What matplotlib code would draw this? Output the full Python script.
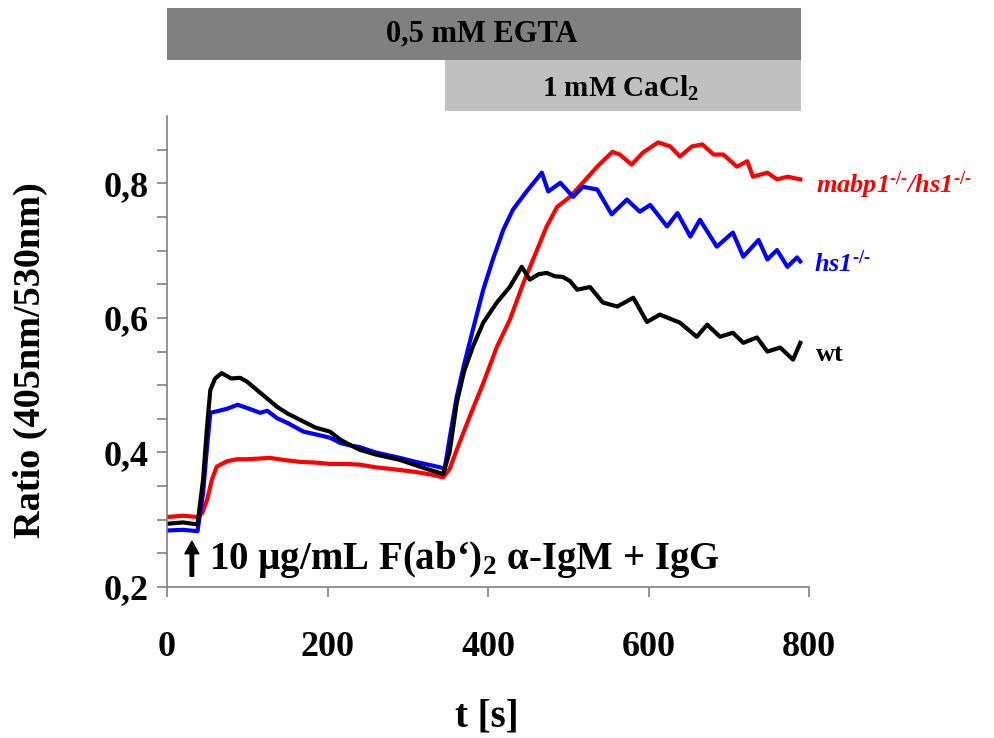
import numpy as np
import matplotlib
matplotlib.use("Agg")
import matplotlib.pyplot as plt
import matplotlib.transforms as mtransforms
from matplotlib.patches import Rectangle

plt.rcParams['font.family'] = ['Liberation Serif', 'DejaVu Serif']
plt.rcParams['font.weight'] = 'bold'
plt.rcParams['mathtext.fontset'] = 'custom'
plt.rcParams['mathtext.rm'] = 'Liberation Serif:bold'
plt.rcParams['mathtext.bf'] = 'Liberation Serif:bold'
plt.rcParams['mathtext.it'] = 'Liberation Serif:italic:bold'

# time (s) and ratio values
t_wt = [0, 20, 38, 45, 50, 54, 60, 68, 80, 91, 100, 107, 120, 137, 150, 170, 185, 203,
        216, 230, 240, 260, 275, 290, 310, 325, 344, 352, 361, 370, 381, 394, 411, 427,
        442, 452, 463, 473, 483, 493, 502, 511, 527, 543, 561, 581, 598, 614, 639, 660,
        673, 689, 705, 718, 735, 748, 764, 780, 789]
r_wt = [0.294, 0.296, 0.293, 0.36, 0.44, 0.493, 0.51, 0.518, 0.510, 0.511, 0.505, 0.498,
        0.485, 0.468, 0.458, 0.446, 0.437, 0.431, 0.419, 0.410, 0.404, 0.397, 0.393, 0.389,
        0.381, 0.375, 0.368, 0.40, 0.474, 0.52, 0.557, 0.593, 0.623, 0.646, 0.676, 0.657,
        0.665, 0.667, 0.662, 0.661, 0.655, 0.642, 0.646, 0.623, 0.617, 0.630, 0.594, 0.605,
        0.593, 0.572, 0.590, 0.572, 0.578, 0.563, 0.571, 0.550, 0.556, 0.538, 0.563]

t_hs1 = [0, 20, 38, 45, 50, 54, 65, 75, 88, 100, 116, 125, 137, 150, 170, 185, 203, 216,
         230, 240, 260, 275, 290, 310, 325, 340, 346, 352, 361, 370, 381, 394, 406, 419,
         431, 448, 467, 475, 490, 506, 518, 536, 554, 573, 589, 602, 623, 636, 652, 664,
         685, 705, 718, 737, 748, 760, 773, 785, 789]
r_hs1 = [0.284, 0.285, 0.283, 0.34, 0.41, 0.459, 0.462, 0.465, 0.471, 0.466, 0.459, 0.462,
         0.451, 0.444, 0.431, 0.427, 0.422, 0.414, 0.410, 0.408, 0.400, 0.396, 0.392, 0.386,
         0.382, 0.378, 0.376, 0.42, 0.483, 0.53, 0.582, 0.642, 0.687, 0.731, 0.761, 0.788,
         0.816, 0.788, 0.801, 0.780, 0.795, 0.791, 0.754, 0.776, 0.758, 0.768, 0.736, 0.756,
         0.721, 0.746, 0.706, 0.727, 0.691, 0.716, 0.687, 0.701, 0.676, 0.690, 0.684]

t_dko = [0, 20, 38, 44, 50, 56, 62, 75, 87, 100, 115, 128, 145, 166, 185, 203, 220, 240,
         260, 290, 310, 330, 344, 352, 361, 377, 394, 411, 427, 444, 461, 473, 486, 502,
         518, 536, 555, 564, 579, 593, 612, 627, 639, 654, 667, 681, 693, 710, 723, 730,
         748, 760, 773, 789]
r_dko = [0.304, 0.306, 0.304, 0.31, 0.330, 0.36, 0.379, 0.387, 0.390, 0.390, 0.391, 0.392,
         0.389, 0.386, 0.385, 0.383, 0.383, 0.382, 0.378, 0.374, 0.371, 0.367, 0.363, 0.375,
         0.404, 0.453, 0.503, 0.557, 0.597, 0.652, 0.701, 0.736, 0.765, 0.780, 0.801, 0.825,
         0.847, 0.843, 0.828, 0.846, 0.861, 0.855, 0.840, 0.855, 0.858, 0.843, 0.843, 0.825,
         0.833, 0.810, 0.816, 0.806, 0.810, 0.806]

fig = plt.figure(figsize=(9.94, 7.38), dpi=100)
ax = fig.add_axes([0.168, 0.2046, 0.646, 0.638])

ax.plot(t_dko, r_dko, color='#ff0000', lw=3)
ax.plot(t_hs1, r_hs1, color='#0000ff', lw=3)
ax.plot(t_wt, r_wt, color='black', lw=3)

ax.set_xlim(0, 800)
ax.set_ylim(0.2, 0.9)
ax.set_xticks([0, 200, 400, 600, 800])
ax.set_yticks([0.2, 0.4, 0.6, 0.8])
ax.set_yticklabels(['0,2', '0,4', '0,6', '0,8'])
ax.set_yticks(np.arange(0.25, 0.9, 0.05), minor=True)
for s in ['top', 'right']:
    ax.spines[s].set_visible(False)
for s in ['left', 'bottom']:
    ax.spines[s].set_color('#808080')
    ax.spines[s].set_linewidth(1.2)
ax.tick_params(axis='both', which='both', direction='out', length=7, width=1.2,
               color='#808080', labelsize=26)
ax.tick_params(axis='x', pad=25)
ax.tick_params(axis='y', pad=6)
for lab in ax.get_xticklabels() + ax.get_yticklabels():
    lab.set_fontweight('bold')

# treatment bars above the plot
trans = mtransforms.blended_transform_factory(ax.transData, ax.transAxes)
ax.add_patch(Rectangle((0, 1.119), 790, 0.11, transform=trans, color='#808080',
                       clip_on=False, lw=0))
ax.add_patch(Rectangle((346, 1.010), 444, 0.109, transform=trans, color='#c0c0c0',
                       clip_on=False, lw=0))
ax.text(392, 1.174, '0,5 mM EGTA', transform=trans, ha='center', va='center',
        fontsize=22, fontweight='bold')
ax.text(565, 1.060, r'1 mM CaCl$_\mathbf{2}$', transform=trans, ha='center', va='center',
        fontsize=21, fontweight='bold')

# stimulus arrow and text
ax.annotate('', xy=(31, 0.268), xytext=(31, 0.216),
            arrowprops=dict(facecolor='black', edgecolor='black', width=2.5,
                            headwidth=10, headlength=9, shrink=0))
ax.text(52, 0.241, r'10 µg/mL F(ab‘)$_\mathbf{2}$ α-IgM + IgG', ha='left', va='center',
        fontsize=28, fontweight='bold')

# curve labels
ax.text(808, 0.797, r'mabp1$^{\mathit{‐/‐}}$/hs1$^{\mathit{‐/‐}}$', color='#ff0000',
        ha='left', va='center', fontsize=19, fontweight='bold', style='italic', clip_on=False)
ax.text(806, 0.680, r'hs1$^{\mathit{‐/‐}}$', color='#0000ff', ha='left', va='center',
        fontsize=19, fontweight='bold', style='italic', clip_on=False)
ax.text(808, 0.545, 'wt', color='black', ha='left', va='center', fontsize=19,
        fontweight='bold', clip_on=False)

fig.text(0.031, 0.512, 'Ratio (405nm/530nm)', rotation=90, ha='center', va='center',
         fontsize=27.5, fontweight='bold')
fig.text(0.49, 0.028, 't [s]', ha='center', va='center', fontsize=28, fontweight='bold')

fig.savefig('out.png', dpi=100)
